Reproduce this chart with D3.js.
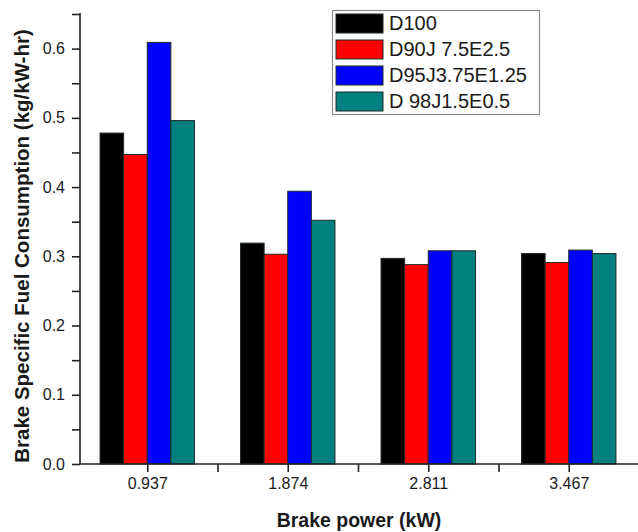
<!DOCTYPE html>
<html>
<head>
<meta charset="utf-8">
<script src="https://cdn.jsdelivr.net/npm/d3@7"></script>
<style>
  html, body { margin: 0; padding: 0; background: #fff; }
  svg { display: block; }
  text { font-family: "Liberation Sans", Arial, Helvetica, sans-serif; fill: #1a1a1a; }
</style>
</head>
<body>
<svg id="chart" width="638" height="532"></svg>
<script>
const categories = ["0.937", "1.874", "2.811", "3.467"];
const seriesNames = ["D100", "D90J 7.5E2.5", "D95J3.75E1.25", "D 98J1.5E0.5"];
const seriesColors = ["#000000", "#ff0000", "#0000ff", "#008080"];
const D100          = [0.478, 0.319, 0.297, 0.304];
const D90J75E25     = [0.447, 0.303, 0.288, 0.291];
const D95J375E125   = [0.609, 0.394, 0.308, 0.309];
const D98J15E05     = [0.496, 0.352, 0.308, 0.304];
const seriesValues = [D100, D90J75E25, D95J375E125, D98J15E05];
const yTicks = [0, 0.1, 0.2, 0.3, 0.4, 0.5, 0.6];
const yMinorTicks = [0.05, 0.15, 0.25, 0.35, 0.45, 0.55, 0.65];

const svg = d3.select("#chart");

// scales
const x = d3.scaleLinear().domain([0.5, 4.5]).range([77, 639]);
const y = d3.scaleLinear().domain([0, 0.65]).range([464, 14]);
const step = x(2) - x(1);
const inner = d3.scaleBand().domain(seriesNames).range([-step * 0.336, step * 0.336]).padding(0);

// bars
seriesNames.forEach((name, si) => {
  svg.append("g")
    .selectAll("rect")
    .data(seriesValues[si])
    .join("rect")
    .attr("x", (d, i) => x(i + 1) + inner(name))
    .attr("y", d => y(d))
    .attr("width", inner.bandwidth())
    .attr("height", d => y(0) - y(d))
    .attr("fill", seriesColors[si])
    .attr("stroke", "#1f2a2a")
    .attr("stroke-width", 1);
});

// y axis
const yAxis = svg.append("g").attr("transform", "translate(80,0)");
yAxis.call(d3.axisLeft(y).tickValues(yTicks).tickFormat(d3.format(".1f")).tickSize(8).tickPadding(7));
yAxis.append("g").call(d3.axisLeft(y).tickValues(yMinorTicks).tickFormat("").tickSize(8));
yAxis.selectAll(".domain").remove();
yAxis.append("line").attr("x1", 0).attr("x2", 0).attr("y1", y(0)).attr("y2", y(0.65) - 1);

// x axis
const xAxis = svg.append("g").attr("transform", `translate(0,${y(0)})`);
xAxis.call(d3.axisBottom(x).tickValues([1, 2, 3, 4]).tickFormat((d) => categories[d - 1]).tickSize(8).tickPadding(6));
xAxis.append("g").call(d3.axisBottom(x).tickValues([1.5, 2.5, 3.5]).tickFormat("").tickSize(8));
xAxis.selectAll(".domain").remove();
xAxis.append("line").attr("x1", 80).attr("x2", 638).attr("y1", 0).attr("y2", 0);

svg.selectAll(".tick line").attr("stroke", "#222").attr("stroke-width", 1.5);
svg.selectAll("g > line").attr("stroke", "#222").attr("stroke-width", 1.6);
svg.selectAll(".tick text").style("font-size", "16px").attr("fill", "#1a1a1a");

// axis titles
svg.append("text")
  .attr("x", 359).attr("y", 527)
  .attr("text-anchor", "middle")
  .style("font-size", "19.5px").style("font-weight", "bold")
  .text("Brake power (kW)");

svg.append("text")
  .attr("transform", "translate(29,246) rotate(-90)")
  .attr("text-anchor", "middle")
  .style("font-size", "20.5px").style("font-weight", "bold")
  .text("Brake Specific Fuel Consumption (kg/kW-hr)");

// legend
const legend = svg.append("g");
legend.append("rect")
  .attr("x", 332.5).attr("y", 10.5).attr("width", 207).attr("height", 104)
  .attr("fill", "#fff").attr("stroke", "#8a8a8a").attr("stroke-width", 1.2);
seriesNames.forEach((name, i) => {
  const ry = 14 + i * 26;
  legend.append("rect")
    .attr("x", 336).attr("y", ry).attr("width", 47).attr("height", 19)
    .attr("fill", seriesColors[i]).attr("stroke", "#1f2a2a").attr("stroke-width", 1);
  legend.append("text")
    .attr("x", 389).attr("y", ry + 16)
    .style("font-size", "20px")
    .text(name);
});
</script>
</body>
</html>
